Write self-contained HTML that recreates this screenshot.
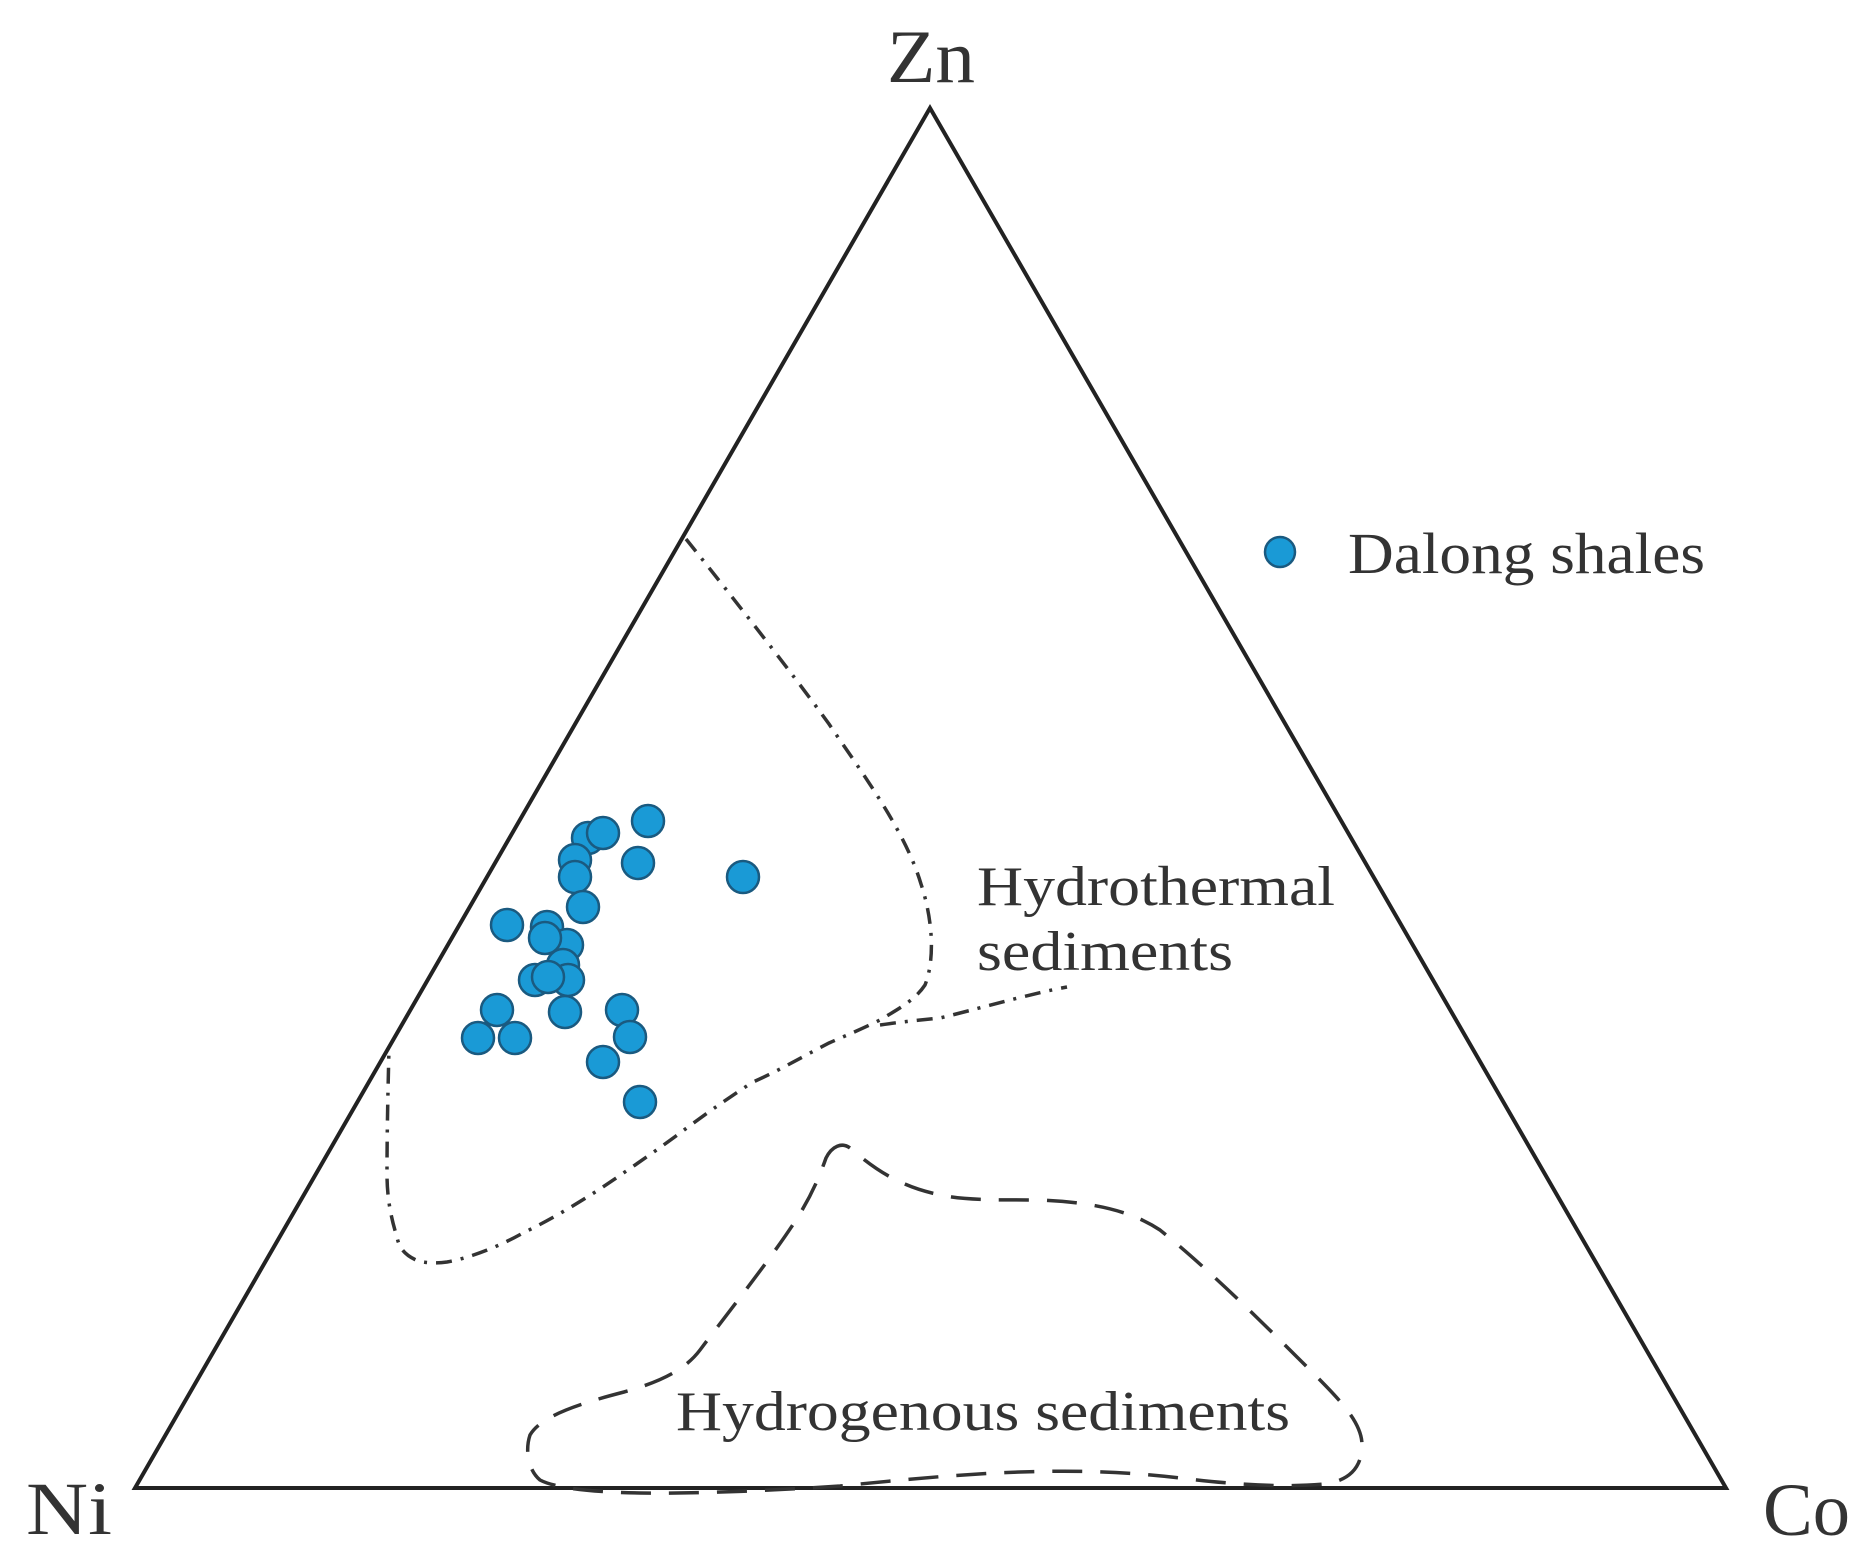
<!DOCTYPE html>
<html><head><meta charset="utf-8"><style>
html,body{margin:0;padding:0;background:#fff;}
svg{display:block;}
text{font-family:"Liberation Serif",serif;fill:#333;}
</style></head><body>
<svg width="1872" height="1567" viewBox="0 0 1872 1567" xmlns="http://www.w3.org/2000/svg">
<polygon points="930,108 135,1488 1726,1488" fill="none" stroke="#222" stroke-width="4" stroke-linejoin="miter"/>
<text x="887" y="82" font-size="75" textLength="88" lengthAdjust="spacingAndGlyphs" fill="#222">Zn</text>
<text x="26" y="1534" font-size="75" textLength="86" lengthAdjust="spacingAndGlyphs" fill="#222">Ni</text>
<text x="1763" y="1535" font-size="75" textLength="87" lengthAdjust="spacingAndGlyphs" fill="#222">Co</text>

<path d="M686,539 C715,575 790,670 829,724 C860,770 905,830 921,884 C933,920 935,960 925,985 C915,1000 900,1008 880,1020 C860,1030 840,1038 829,1043 C800,1058 780,1070 753,1082 C725,1100 700,1118 676,1136 C650,1155 625,1172 600,1189 C575,1205 550,1220 523,1233 C500,1246 470,1258 447,1262 C432,1264 420,1262 416,1260 C405,1255 399,1248 397,1237 C390,1215 387,1195 387,1174 C387,1130 388,1090 389,1048" fill="none" stroke="#333" stroke-width="3.5" stroke-dasharray="16 9 3 9"/>
<path d="M880,1025 C900,1022 920,1020 940,1018 C965,1012 990,1005 1010,1000 C1030,995 1050,990 1067,987" fill="none" stroke="#333" stroke-width="3.5" stroke-dasharray="16 9 3 9"/>

<path d="M826,1158 C832,1146 842,1142 850,1148 C870,1165 895,1185 936,1194 C960,1200 990,1200 1040,1200 C1090,1202 1130,1210 1160,1230 C1200,1262 1250,1310 1300,1360 C1335,1395 1362,1420 1362,1445 C1362,1465 1352,1480 1325,1484 C1280,1488 1230,1484 1180,1478 C1130,1472 1080,1470 1020,1472 C960,1474 900,1480 840,1486 C780,1490 700,1494 640,1493 C590,1492 555,1488 540,1480 C528,1470 525,1450 530,1435 C540,1418 570,1406 624,1392 C660,1382 685,1370 700,1350 C730,1310 770,1260 796,1220 C812,1195 820,1175 826,1158 Z" fill="none" stroke="#333" stroke-width="3.5" stroke-dasharray="30 18"/>

<g fill="#1a9ad6" stroke="#1a5a80" stroke-width="2.5">
<circle cx="648" cy="821" r="16"/>
<circle cx="588" cy="838" r="16"/>
<circle cx="603" cy="833" r="16"/>
<circle cx="638" cy="863" r="16"/>
<circle cx="575" cy="860" r="16"/>
<circle cx="575" cy="877" r="16"/>
<circle cx="583" cy="907" r="16"/>
<circle cx="743" cy="877" r="16"/>
<circle cx="507" cy="925" r="16"/>
<circle cx="547" cy="927" r="16"/>
<circle cx="567" cy="945" r="16"/>
<circle cx="563" cy="965" r="16"/>
<circle cx="568" cy="980" r="16"/>
<circle cx="535" cy="980" r="16"/>
<circle cx="548" cy="977" r="16"/>
<circle cx="545" cy="938" r="16"/>
<circle cx="497" cy="1010" r="16"/>
<circle cx="565" cy="1012" r="16"/>
<circle cx="622" cy="1010" r="16"/>
<circle cx="478" cy="1038" r="16"/>
<circle cx="515" cy="1038" r="16"/>
<circle cx="630" cy="1037" r="16"/>
<circle cx="603" cy="1062" r="16"/>
<circle cx="640" cy="1102" r="16"/>
<circle cx="1280" cy="552" r="15"/>
</g>

<text x="1348" y="573" font-size="58" textLength="357" lengthAdjust="spacingAndGlyphs">Dalong shales</text>
<text x="977" y="905" font-size="56" textLength="358" lengthAdjust="spacingAndGlyphs">Hydrothermal</text>
<text x="977" y="970" font-size="56" textLength="256" lengthAdjust="spacingAndGlyphs">sediments</text>
<text x="676" y="1430" font-size="56" textLength="614" lengthAdjust="spacingAndGlyphs">Hydrogenous sediments</text>
</svg>
</body></html>
